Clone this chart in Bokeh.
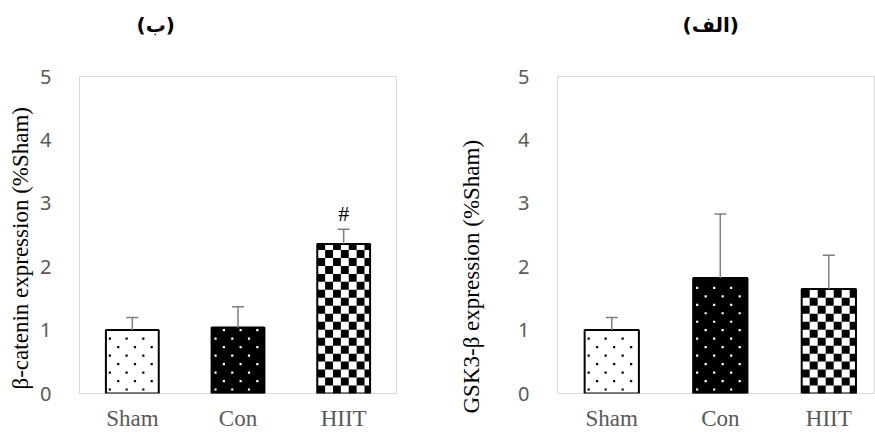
from bokeh.plotting import figure
from bokeh.layouts import row
from bokeh.models import (ColumnDataSource, Range1d, FixedTicker, Whisker, TeeHead, Title)
from bokeh.core.properties import value
from bokeh.embed import file_html
from bokeh.resources import INLINE

# ---------------- data ----------------
categories = ["Sham", "Con", "HIIT"]
beta_catenin_mean = [1.0, 1.04, 2.36]
beta_catenin_sd = [0.20, 0.33, 0.23]
beta_catenin_marks = ["", "", "#"]
gsk3b_mean = [1.0, 1.82, 1.65]
gsk3b_sd = [0.20, 1.01, 0.53]
gsk3b_marks = ["", "", ""]
y_ticks = [0, 1, 2, 3, 4, 5]
bar_patterns = ["dots", "dots", "checker"]
bar_fills = ["white", "black", "white"]
pattern_colors = ["black", "white", "black"]

GRAY_TXT = "#595959"
BORDER = "#d9d9d9"
ERR = "#7f7f7f"
CELL = 8.0     # checker cell, px
ROW = 8.5      # dot row pitch, px
BAR_W = 0.5


def pattern_glyphs(xs, means, ppx, ppy):
    chk = dict(left=[], right=[], bottom=[], top=[])
    dots = {"black": dict(x=[], y=[]), "white": dict(x=[], y=[])}
    for c, t, pat, col in zip(xs, means, bar_patterns, pattern_colors):
        x0, x1 = c - BAR_W / 2, c + BAR_W / 2
        if pat == "checker":
            cw, ch = CELL / ppx, CELL / ppy
            r = 0
            while r * ch < t - 1e-9:
                k = 0
                while x0 + k * cw < x1 - 1e-9:
                    if (r + k) % 2 == 0:
                        chk["left"].append(x0 + k * cw)
                        chk["right"].append(min(x0 + (k + 1) * cw, x1))
                        chk["bottom"].append(r * ch)
                        chk["top"].append(min((r + 1) * ch, t))
                    k += 1
                r += 1
        else:
            wpx, hpx = (x1 - x0) * ppx, t * ppy
            r = 0
            while 4 + r * ROW < hpx - 2:
                xo = 4 + (r % 2) * ROW
                while xo < wpx - 2:
                    dots[col]["x"].append(x0 + xo / ppx)
                    dots[col]["y"].append((4 + r * ROW) / ppy)
                    xo += 2 * ROW
                r += 1
    return chk, dots


def spacer(gap):
    # invisible layout spacer between the frame and a caption
    return Title(text=" ", text_font_size="1px", standoff=gap, text_color="white")


def make_panel(means, sds, marks, title, ylabel, fig_w, mb_left, mb_right, x_end,
               title_offset, ylab_offset, ylab_gap):
    H = 433
    mb_top, mb_bottom = 76, 39
    frame_w = fig_w - mb_left - mb_right
    frame_h = H - mb_top - mb_bottom
    ppx = frame_w / x_end
    ppy = frame_h / 5.0

    xs = [i + 0.5 for i in range(len(categories))]
    src = ColumnDataSource(dict(
        x=xs, top=means, upper=[m + s for m, s in zip(means, sds)], mark=marks,
        fill=bar_fills))

    p = figure(width=fig_w, height=H, output_backend="svg", toolbar_location=None,
               x_range=Range1d(0, x_end), y_range=Range1d(0, 5),
               min_border_left=mb_left, min_border_right=mb_right,
               min_border_top=mb_top, min_border_bottom=mb_bottom,
               background_fill_color="white", border_fill_color="white")
    p.outline_line_color = BORDER
    p.outline_line_width = 1
    p.grid.visible = False

    # bar fills
    p.vbar(x="x", top="top", width=BAR_W, source=src, fill_color="fill", line_color=None)
    # fill patterns
    chk, dots = pattern_glyphs(xs, means, ppx, ppy)
    p.quad(left="left", right="right", bottom="bottom", top="top",
           source=ColumnDataSource(chk), fill_color="black", line_color=None)
    for col, d in dots.items():
        p.scatter(x="x", y="y", source=ColumnDataSource(d), marker="square", size=2.2,
                  fill_color=col, line_color=None)
    # bar outlines
    p.vbar(x="x", top="top", width=BAR_W, source=src, fill_color=None,
           line_color="black", line_width=2)

    w = Whisker(source=src, base="x", lower="top", upper="upper", dimension="height",
                line_color=ERR, line_width=1.5,
                upper_head=TeeHead(size=12, line_color=ERR, line_width=1.5),
                lower_head=None)
    w.level = "overlay"
    p.add_layout(w)

    p.text(x="x", y="upper", text="mark", source=src, text_align="center",
           text_baseline="bottom", y_offset=-3, text_color="black",
           text_font=value("Liberation Serif"), text_font_size="22px")

    # axes
    p.yaxis.ticker = FixedTicker(ticks=y_ticks)
    p.xaxis.ticker = FixedTicker(ticks=xs)
    p.xaxis.major_label_overrides = {x: c for x, c in zip(xs, categories)}
    for ax in (p.xaxis, p.yaxis):
        ax.axis_line_color = None
        ax.major_tick_line_color = None
        ax.minor_tick_line_color = None
        ax.major_label_text_color = GRAY_TXT
    p.yaxis.major_label_text_font = "Noto Sans"
    p.yaxis.major_label_text_font_size = "20px"
    p.yaxis.major_label_standoff = 22
    p.xaxis.major_label_text_font = "Liberation Serif"
    p.xaxis.major_label_text_font_size = "23px"
    p.xaxis.major_label_standoff = 6

    # panel title (above, outermost)
    p.add_layout(spacer(32), "above")
    p.title.text = title
    p.title.align = "left"
    p.title.offset = title_offset
    p.title.standoff = 10
    p.title.text_font = "DejaVu Sans"
    p.title.text_font_style = "bold"
    p.title.text_font_size = "20px"
    p.title.text_color = "black"

    # y-axis caption as a side title (can be shifted along the axis)
    if ylab_gap > 0:
        p.add_layout(spacer(ylab_gap), "left")
    p.add_layout(Title(text=ylabel, align="left", offset=ylab_offset,
                       standoff=10, text_font="Liberation Serif",
                       text_font_size="23px", text_font_style="normal",
                       text_color="black"), "left")
    return p


left = make_panel(beta_catenin_mean, beta_catenin_sd, beta_catenin_marks, "(ب)",
                  "β-catenin expression (%Sham)",
                  fig_w=440, mb_left=74, mb_right=44, x_end=3.0,
                  title_offset=57, ylab_offset=4, ylab_gap=0)
right = make_panel(gsk3b_mean, gsk3b_sd, gsk3b_marks, "(الف)",
                   "GSK3-β expression (%Sham)",
                   fig_w=435, mb_left=117, mb_right=0, x_end=2.93,
                   title_offset=125, ylab_offset=-20, ylab_gap=24)

layout = row(left, right)
open("out.html", "w").write(file_html(layout, INLINE))
